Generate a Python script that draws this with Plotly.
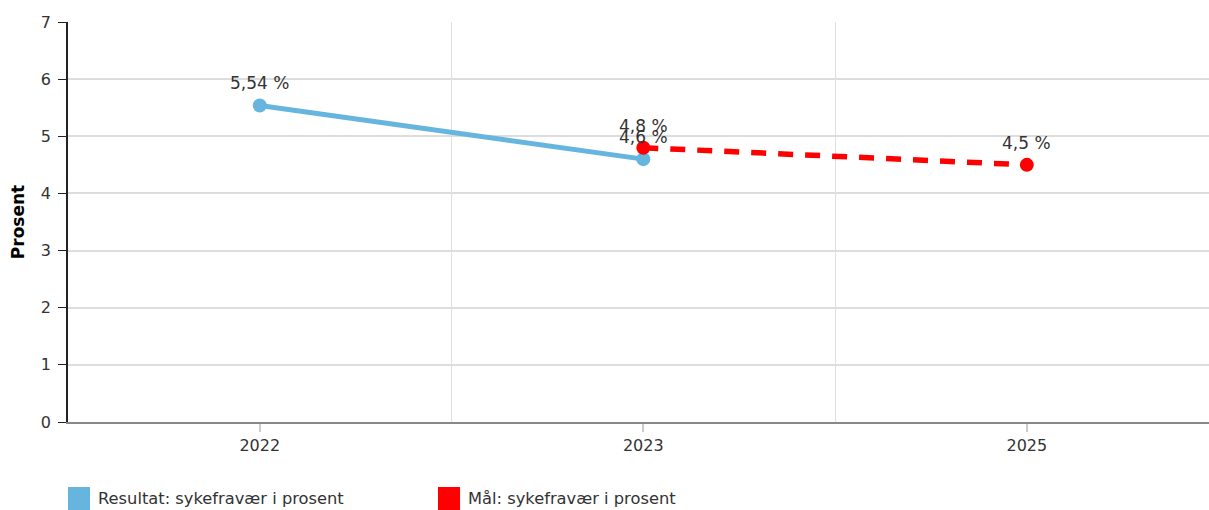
import plotly.graph_objects as go

categories = ["2022", "2023", "2025"]
result_name = "Resultat: sykefravær i prosent"
result_x = ["2022", "2023"]
result_y = [5.54, 4.6]
goal_name = "Mål: sykefravær i prosent"
goal_x = ["2023", "2025"]
goal_y = [4.8, 4.5]
y_ticks = [0, 1, 2, 3, 4, 5, 6, 7]

BLUE = "#66B5DE"
RED = "#FF0000"
FONT = "DejaVu Sans"
TXT = "#333333"

pos = {c: i for i, c in enumerate(categories)}

def fmt(v):
    return f"{v:g}".replace(".", ",") + " %"

fig = go.Figure()
fig.add_trace(go.Scatter(
    x=[pos[c] for c in result_x], y=result_y, mode="lines+markers",
    line=dict(color=BLUE, width=5), marker=dict(color=BLUE, size=14),
    showlegend=False, hoverinfo="skip"))
fig.add_trace(go.Scatter(
    x=[pos[c] for c in goal_x], y=goal_y, mode="lines+markers",
    line=dict(color=RED, width=5.5, dash="15px,12px"), marker=dict(color=RED, size=14),
    showlegend=False, hoverinfo="skip"))

annotations = []
for xs, ys in ((result_x, result_y), (goal_x, goal_y)):
    for c, v in zip(xs, ys):
        annotations.append(dict(x=pos[c], y=v, xref="x", yref="y", text=fmt(v),
                                showarrow=False, yshift=22,
                                font=dict(family=FONT, size=17, color=TXT)))

# legend drawn manually (big squares)
shapes = []
for x0, color, name in ((0.0, BLUE, result_name), (0.3243, RED, goal_name)):
    shapes.append(dict(type="rect", xref="paper", yref="paper", x0=x0, x1=x0 + 0.0193,
                       y0=-0.225, y1=-0.1625, fillcolor=color, line=dict(width=0)))
    annotations.append(dict(x=x0 + 0.0245, y=-0.1925, xref="paper", yref="paper",
                            text=name, showarrow=False, xanchor="left", yanchor="middle",
                            font=dict(family=FONT, size=16.3, color=TXT)))

fig.update_layout(
    width=1209, height=510,
    margin=dict(l=68, r=0, t=22, b=88),
    plot_bgcolor="white", paper_bgcolor="white",
    font=dict(family=FONT, size=16, color=TXT),
    annotations=annotations, shapes=shapes,
    xaxis=dict(range=[-0.5, 2.475], tickvals=list(range(len(categories))), ticktext=categories,
               showgrid=False, zeroline=False, showline=True, linecolor="#888888", linewidth=1.5,
               ticks="outside", ticklen=8, tickcolor="#cccccc", tickwidth=1.5,
               minor=dict(tick0=0.5, dtick=1, showgrid=True, gridcolor="#e0e0e0", gridwidth=1, ticks=""),
               tickfont=dict(family=FONT, size=16, color=TXT)),
    yaxis=dict(range=[0, 7], tickvals=y_ticks, showgrid=True, gridcolor="#dddddd", gridwidth=1.5,
               zeroline=False, showline=True, linecolor="#222222", linewidth=1.5,
               ticks="outside", ticklen=8, tickcolor="#222222", ticklabelstandoff=4,
               title=dict(text="<b>Prosent</b>", standoff=12, font=dict(family=FONT, size=17, color="#000000")),
               tickfont=dict(family=FONT, size=16, color=TXT)),
)

fig.write_html("out.html", config={"displayModeBar": False},
               post_script="document.body.style.margin='0px';document.body.style.overflow='hidden';")
